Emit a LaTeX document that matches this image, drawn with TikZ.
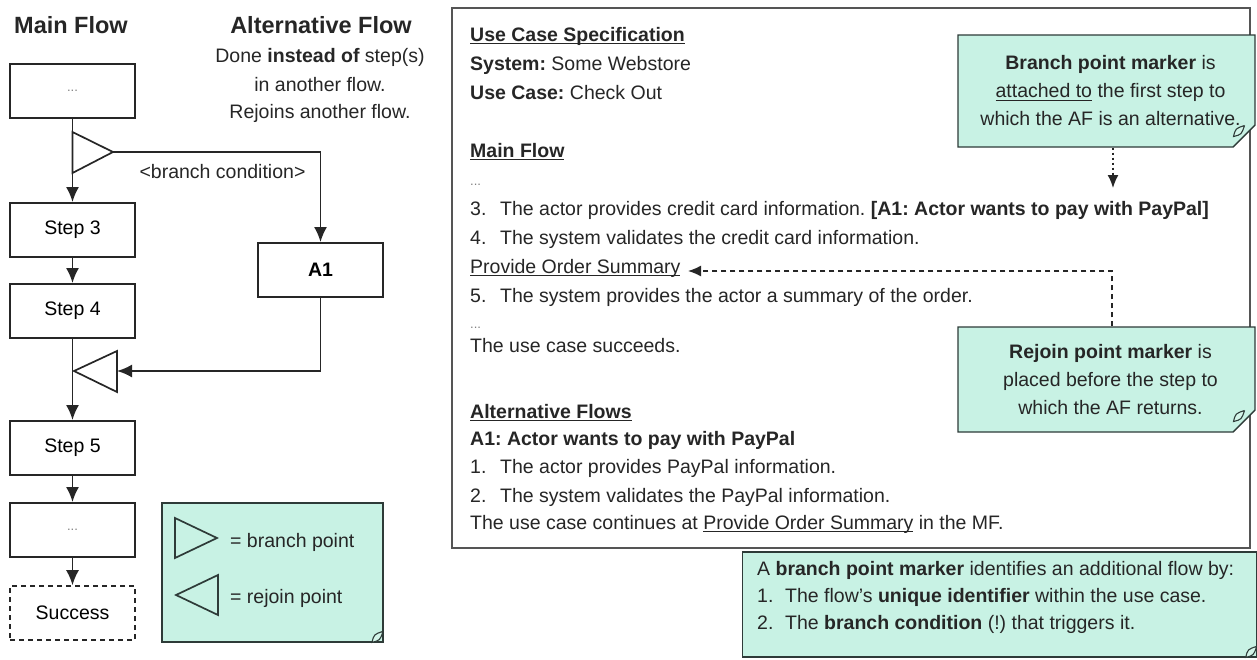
\documentclass[tikz,border=0pt]{standalone}
\usepackage{fontspec}
\setmainfont{Liberation Sans}
\usetikzlibrary{arrows.meta,shapes.misc}
\definecolor{notefill}{HTML}{C8F2E4}
\definecolor{ink}{HTML}{262626}
\definecolor{noteline}{HTML}{2E3B38}
\definecolor{boxline}{HTML}{555555}
\frenchspacing
\newcommand\fs{\fontsize{19.5}{28}\selectfont}
\newcommand\ttl{\fontsize{23.5}{28}\selectfont\bfseries}
\newcommand\myul[1]{\setbox0\hbox{#1}\rlap{\rule[-2.8pt]{\wd0}{1.1pt}}\box0\relax}
\newcommand\dotsgray{{\color{gray}\fontsize{13}{13}\selectfont ...}}
\newcommand\notefold[1]{%
  \draw[noteline,line width=1.1pt,fill=notefill!80!white]
    ([yshift=11pt]#1.south east) .. controls ([xshift=-9pt,yshift=8pt]#1.south east) ..
    ([xshift=-11pt]#1.south east) .. controls ([xshift=-3pt,yshift=2pt]#1.south east) ..
    ([yshift=11pt]#1.south east);}
\begin{document}
\begin{tikzpicture}[x=1pt,y=-1pt,
  flowbox/.style={draw=ink,line width=1.9pt,minimum width=125pt,minimum height=54pt,inner sep=0pt,font=\fs,fill=white},
  arr/.style={-{Latex[length=15pt,width=13pt]},line width=1.9pt,draw=ink},
  marker/.style={draw=ink,line width=1.7pt,fill=white},
  legmark/.style={draw=noteline,line width=1.7pt},
  txt/.style={anchor=base west,inner sep=0pt,font=\fs,text=ink},
  ctxt/.style={anchor=base,inner sep=0pt,font=\fs,text=ink},
  note/.style={chamfered rectangle,chamfered rectangle corners=south east,
    chamfered rectangle xsep=11pt,chamfered rectangle ysep=11pt,
    draw=noteline,line width=1.4pt,fill=notefill,inner sep=0pt,font=\fs,text=ink},
  dashline/.style={draw=ink,line width=1.4pt,dash pattern=on 5pt off 4pt},
  dotline/.style={draw=ink,line width=1.6pt,dash pattern=on 2.5pt off 2.5pt},
  tip/.style={-{Latex[length=13pt,width=11pt]}}
]
\useasboundingbox[fill=white] (0,0) rectangle (1257,659);

% ---------- left: titles ----------
\node[txt,font=\ttl] (tmain) at (14,33) {Main Flow};
\node[ctxt,font=\ttl] (talt) at (321,33) {Alternative Flow};
\node[ctxt] (sub1) at (320,62) {Done \textbf{instead of} step(s)};
\node[ctxt] (sub2) at (320,91) {in another flow.};
\node[ctxt] (sub3) at (320,118) {Rejoins another flow.};

% ---------- left: flow boxes ----------
\node[flowbox] (d1) at (72.5,91) {\dotsgray};
\node[flowbox] (s3) at (72.5,230) {Step 3};
\node[flowbox] (s4) at (72.5,311) {Step 4};
\node[flowbox] (s5) at (72.5,448) {Step 5};
\node[flowbox] (d2) at (72.5,530) {\dotsgray};
\node[flowbox,dash pattern=on 5pt off 4pt,line width=1.6pt] (succ) at (72.5,613) {Success};
\node[flowbox,font=\fs\bfseries] (a1) at (320.5,270) {A1};

\draw[arr] (d1.south) -- (s3.north);
\draw[arr] (s3.south) -- (s4.north);
\draw[arr] (s4.south) -- (s5.north);
\draw[arr] (s5.south) -- (d2.north);
\draw[arr] (d2.south) -- (succ.north);

% branch point marker
\coordinate (btop) at (72.5,132);
\coordinate (bapex) at (113,152);
\coordinate (bbot) at (72.5,173);
\draw[marker] (btop) -- (bapex) -- (bbot) -- cycle;
\draw[arr] (bapex) -| (a1.north);
\node[ctxt] (bcond) at (222.5,178) {<branch condition>};

% rejoin point marker
\coordinate (rapex) at (74,371);
\coordinate (rtop) at (117,351);
\coordinate (rbot) at (117,392);
\coordinate (rbase) at (117,371);
\draw[marker] (rapex) -- (rtop) -- (rbot) -- cycle;
\draw[arr] (a1.south) |- (rbase);

% legend
\node[note,minimum width=221pt,minimum height=139pt] (legend) at (272.5,572.5) {};
\notefold{legend}
\draw[legmark] (175,518) -- (217,538) -- (175,558) -- cycle;
\draw[legmark] (218,575) -- (176,595) -- (218,615) -- cycle;
\node[txt] (lb) at (230,547) {= branch point};
\node[txt] (lr) at (230,603) {= rejoin point};

% ---------- right: specification ----------
\node[draw=boxline,line width=1.5pt,minimum width=798pt,minimum height=540pt,inner sep=0pt] (spec) at (851,278) {};
\node[txt] (h1) at (470,41) {\myul{\textbf{Use Case Specification}}};
\node[txt] (h2) at (470,70) {\textbf{System:} Some Webstore};
\node[txt] (h3) at (470,99) {\textbf{Use Case:} Check Out};
\node[txt] (h4) at (470,157) {\myul{\textbf{Main Flow}}};
\node[txt] (e1) at (470,185) {\dotsgray};
\node[txt] (n3) at (470,215) {3.};
\node[txt] (l3) at (500,215) {The actor provides credit card information. \textbf{[A1: Actor wants to pay with PayPal]}};
\node[txt] (n4) at (470,244) {4.};
\node[txt] (l4) at (500,244) {The system validates the credit card information.};
\node[txt] (pos) at (470,273) {\myul{Provide Order Summary}};
\node[txt] (n5) at (470,302) {5.};
\node[txt] (l5) at (500,302) {The system provides the actor a summary of the order.};
\node[txt] (e2) at (470,328) {\dotsgray};
\node[txt] (succtext) at (470,352) {The use case succeeds.};
\node[txt] (h5) at (470,418) {\myul{\textbf{Alternative Flows}}};
\node[txt] (h6) at (470,445) {\textbf{A1: Actor wants to pay with PayPal}};
\node[txt] (m1) at (470,473) {1.};
\node[txt] (k1) at (500,473) {The actor provides PayPal information.};
\node[txt] (m2) at (470,502) {2.};
\node[txt] (k2) at (500,502) {The system validates the PayPal information.};
\node[txt] (cont) at (470,529) {The use case continues at \myul{Provide Order Summary} in the MF.};

% ---------- callout notes ----------
\node[note,minimum width=297pt,minimum height=112pt,align=center] (n1) at (1106.5,91)
  {\hspace*{8pt}\textbf{Branch point marker} is\\ \hspace*{8pt}\myul{attached to} the first step to\\ \hspace*{8pt}which the AF is an alternative.};
\notefold{n1}
\node[note,minimum width=297pt,minimum height=105pt,align=center] (n2) at (1106.5,379.5)
  {\hspace*{8pt}\textbf{Rejoin point marker} is\\ \hspace*{8pt}placed before the step to\\ \hspace*{8pt}which the AF returns.};
\notefold{n2}
\node[note,minimum width=514pt,minimum height=105pt,anchor=west] (n3note) at (742,604.5) {};
\notefold{n3note}
\node[anchor=base west,inner sep=0pt,font=\fontsize{19.5}{27}\selectfont,text=ink,align=left] (n3text) at (757,629)
  {A \textbf{branch point marker} identifies an additional flow by:\\
   \makebox[28pt][l]{1.}The flow's \textbf{unique identifier} within the use case.\\
   \makebox[28pt][l]{2.}The \textbf{branch condition} (!) that triggers it.};

% connectors from notes
\coordinate (a1mark) at (1113,188);
\draw[dotline,tip] (n1.south -| a1mark) -- (a1mark);
\coordinate (rj) at (1112,271);
\coordinate (posend) at (688,271);
\draw[dashline] (n2.north -| rj) -- (rj) -- ([xshift=8pt]posend);
\draw[draw=ink,line width=1.4pt,tip] ([xshift=12pt]posend) -- (posend);
\end{tikzpicture}
\end{document}
